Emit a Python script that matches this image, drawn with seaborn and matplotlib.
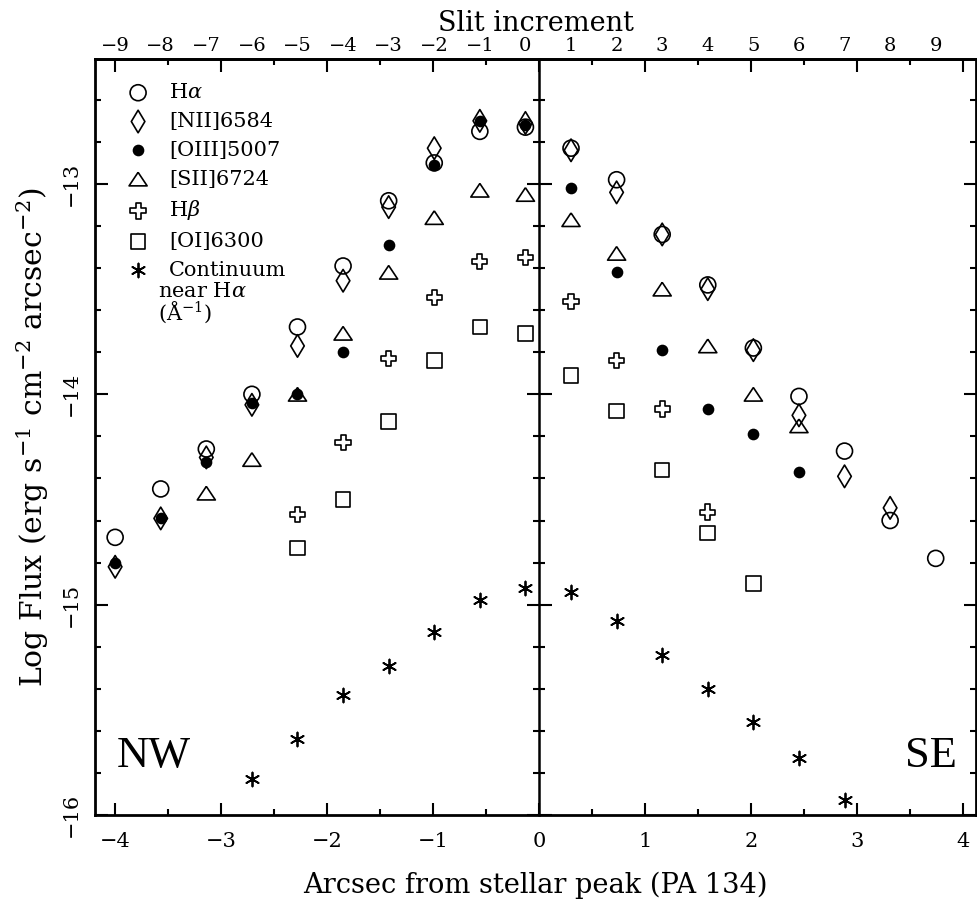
import numpy as np
import pandas as pd
import matplotlib
matplotlib.use("Agg")
import matplotlib.pyplot as plt
import seaborn as sns
from matplotlib.ticker import MultipleLocator, NullLocator

nan = np.nan

# slit steps (top axis) and their offsets in arcsec (bottom axis)
slit_increment = list(range(-9, 10))
slit_arcsec = [-4.00, -3.57, -3.14, -2.71, -2.28, -1.85, -1.42, -0.99, -0.56, -0.13,
               0.30, 0.73, 1.16, 1.59, 2.02, 2.45, 2.88, 3.31, 3.74]

halpha = [-14.68, -14.45, -14.26, -14.00, -13.68, -13.39, -13.08, -12.90, -12.75, -12.73,
          -12.83, -12.98, -13.24, -13.48, -13.78, -14.01, -14.27, -14.60, -14.78]
nii = [-14.82, -14.59, -14.30, -14.05, -13.77, -13.46, -13.11, -12.83, -12.70, -12.71,
       -12.84, -13.04, -13.24, -13.50, -13.79, -14.10, -14.39, -14.54, nan]
oiii = [-14.80, -14.59, -14.32, -14.04, -14.00, -13.80, -13.29, -12.91, -12.70, -12.72,
        -13.02, -13.42, -13.79, -14.07, -14.19, -14.37, nan, nan, nan]
sii = [nan, nan, -14.47, -14.31, -14.00, -13.71, -13.42, -13.16, -13.03, -13.05,
       -13.17, -13.33, -13.50, -13.77, -14.00, -14.15, nan, nan, nan]
hbeta = [nan, nan, nan, nan, -14.57, -14.23, -13.83, -13.54, -13.37, -13.35,
         -13.56, -13.84, -14.07, -14.56, nan, nan, nan, nan, nan]
oi = [nan, nan, nan, nan, -14.73, -14.50, -14.13, -13.84, -13.68, -13.71,
      -13.91, -14.08, -14.36, -14.66, -14.90, nan, nan, nan, nan]
continuum = [nan, nan, nan, -15.83, -15.64, -15.43, -15.29, -15.13, -14.98, -14.92,
             -14.94, -15.08, -15.24, -15.40, -15.56, -15.73, -15.93, nan, nan]

labels = ["H$\\alpha$", "[NII]6584", "[OIII]5007", "[SII]6724", "H$\\beta$", "[OI]6300", "Continuum"]

df = pd.DataFrame({"slit": slit_increment, "arcsec": slit_arcsec,
                   "Ha": halpha, "NII": nii, "OIII": oiii, "SII": sii,
                   "Hb": hbeta, "OI": oi, "cont": continuum})

sns.set_style("ticks")
plt.rcParams["font.family"] = ["DejaVu Serif"]
plt.rcParams["mathtext.fontset"] = "dejavuserif"
plt.rcParams["axes.unicode_minus"] = True
for key in ["text.color", "axes.labelcolor", "xtick.color", "ytick.color", "axes.edgecolor"]:
    plt.rcParams[key] = "black"

fig = plt.figure(figsize=(9.77, 9.05), dpi=100)
ax = fig.add_axes([95 / 977, 90 / 905, 881 / 977, 756 / 905])

triangle = [(0, 0.75), (-1, -0.75), (1, -0.75), (0, 0.75)]

# column, label, marker, size, filled
styles = [
    ("Ha", labels[0], "o", 11.5, False),
    ("NII", labels[1], "d", 11.5, False),
    ("OIII", labels[2], "o", 7.2, True),
    ("SII", labels[3], triangle, 13, False),
    ("Hb", labels[4], "P", 11, False),
    ("OI", labels[5], "s", 10.5, False),
]
for col, lab, mk, ms, filled in styles:
    sub = df.dropna(subset=[col])
    sns.scatterplot(data=sub, x="arcsec", y=col, marker=mk, s=ms ** 2,
                    facecolors="black" if filled else "none",
                    edgecolor="black", linewidth=1.2, label=lab, ax=ax)

sub = df.dropna(subset=["cont"])
sns.scatterplot(data=sub, x="arcsec", y="cont", marker=(6, 2, 0), s=10 ** 2,
                color="black", edgecolor=None, linewidth=1.3, label=labels[6], ax=ax)

ax.set_xlim(-4.19, 4.12)
ax.set_ylim(-16.0, -12.406)

ax.xaxis.set_major_locator(MultipleLocator(1))
ax.xaxis.set_minor_locator(MultipleLocator(0.5))
ax.yaxis.set_major_locator(MultipleLocator(1))
ax.yaxis.set_minor_locator(MultipleLocator(0.2))
ax.tick_params(which="both", direction="in", top=True, right=True, width=1.5, colors="black")
ax.tick_params(which="major", length=9)
ax.tick_params(which="minor", length=4.5)
ax.tick_params(axis="x", labelsize=15, pad=12)
ax.tick_params(axis="y", labelsize=15, pad=10)
for t in ax.get_yticklabels():
    t.set_rotation(90)
    t.set_va("center")
for sp in ax.spines.values():
    sp.set_linewidth(2)
    sp.set_color("black")

# divider at 0 arcsec with crossing ticks
mid = ax.secondary_yaxis(0, transform=ax.transData)
mid.yaxis.set_major_locator(MultipleLocator(1))
mid.yaxis.set_minor_locator(MultipleLocator(0.2))
mid.tick_params(which="both", direction="inout", width=1.5, labelleft=False)
mid.tick_params(which="major", length=18)
mid.tick_params(which="minor", length=9)
mid.spines["left"].set_linewidth(1.8)

# slit increment labels along the top
top = ax.secondary_xaxis("top")
top.set_xticks(slit_arcsec, labels=[str(n).replace("-", "\u2212") for n in slit_increment])
top.xaxis.set_minor_locator(NullLocator())
top.tick_params(length=0, labelsize=14, pad=3)
top.set_xlabel("Slit increment", fontsize=19.5, labelpad=4)
top.spines["top"].set_linewidth(2)

ax.set_xlabel("Arcsec from stellar peak (PA 134)", fontsize=19.6, labelpad=15)
ax.set_ylabel("Log Flux (erg s$^{-1}$ cm$^{-2}$ arcsec$^{-2}$)", fontsize=21.5, labelpad=8)

ax.text(0.025, 0.063, "NW", transform=ax.transAxes, fontsize=32,
        family="Liberation Serif", ha="left", va="baseline")
ax.text(0.978, 0.063, "SE", transform=ax.transAxes, fontsize=32,
        family="Liberation Serif", ha="right", va="baseline")

leg = ax.legend(loc="upper left", bbox_to_anchor=(0.030, 0.968), frameon=False,
                fontsize=15, handletextpad=0.7, labelspacing=0.47,
                borderaxespad=0, borderpad=0, handlelength=1.6)

fig.canvas.draw()
bb = leg.get_texts()[-1].get_window_extent()
x0, y0 = fig.transFigure.inverted().transform((bb.x0 - 11, bb.y0 - 2))
fig.text(x0, y0, "near H$\\alpha$\n(\u00c5$^{-1}$)", fontsize=15, ha="left", va="top",
         linespacing=0.95)

fig.savefig("out.png", dpi=100)
